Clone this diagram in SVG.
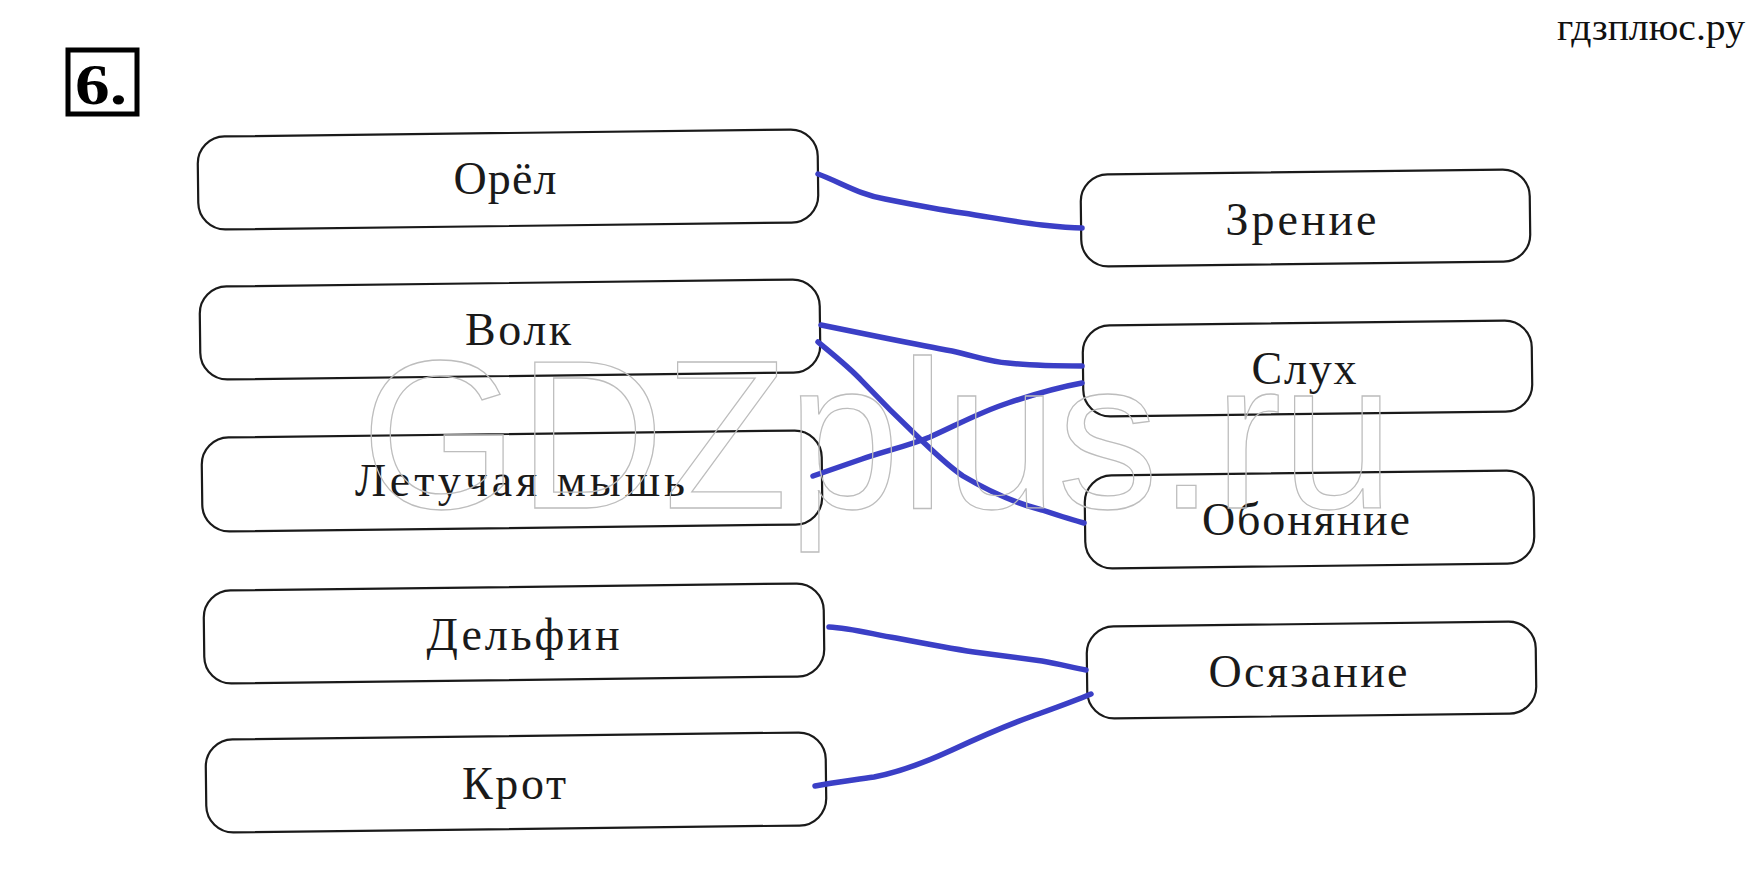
<svg xmlns="http://www.w3.org/2000/svg" width="1756" height="889" viewBox="0 0 1756 889">
<style>
.box{fill:#fff;stroke:#1a1a1a;stroke-width:2.2}
.lbl{font-family:"Liberation Serif","DejaVu Serif",serif;font-size:46px;fill:#1a1a1a;text-anchor:middle}
.link{fill:none;stroke:#3b3fc6;stroke-width:5.5;stroke-linecap:round;stroke-linejoin:round}
.wm{font-family:"Liberation Sans",Arial,sans-serif;font-size:212px;fill:none;stroke:#bdbdbd;stroke-width:1.3}
</style>
<rect width="1756" height="889" fill="#fff"/>
<g id="title">
<rect x="68" y="50" width="69" height="64" fill="#fff" stroke="#000" stroke-width="5"/>
<text x="101" y="104" font-family="Liberation Serif,serif" font-size="58" font-weight="bold" text-anchor="middle" fill="#000" textLength="52" lengthAdjust="spacingAndGlyphs">6.</text>
</g>
<text x="1745" y="40" font-family="Liberation Serif,serif" font-size="38" text-anchor="end" fill="#111" textLength="188" lengthAdjust="spacingAndGlyphs">гдзплюс.ру</text>
<g id="left-nodes">
<g id="n-orel"><rect class="box" x="198" y="133" width="620" height="93" rx="27" transform="rotate(-0.7 508 179)"/><text class="lbl" x="505" y="194" textLength="103">Орёл</text></g>
<g id="n-volk"><rect class="box" x="200" y="283" width="620" height="93" rx="27" transform="rotate(-0.7 510 329)"/><text class="lbl" x="518" y="345" textLength="106">Волк</text></g>
<g id="n-mysh"><rect class="box" x="202" y="434" width="620" height="94" rx="27" transform="rotate(-0.7 512 481)"/><text class="lbl" x="520" y="496" textLength="330">Летучая мышь</text></g>
<g id="n-delfin"><rect class="box" x="204" y="587" width="620" height="93" rx="27" transform="rotate(-0.7 514 633)"/><text class="lbl" x="523" y="650" textLength="193">Дельфин</text></g>
<g id="n-krot"><rect class="box" x="206" y="736" width="620" height="93" rx="27" transform="rotate(-0.7 516 782)"/><text class="lbl" x="514" y="799" textLength="104">Крот</text></g>
</g>
<g id="right-nodes">
<g id="n-zrenie"><rect class="box" x="1081" y="172" width="449" height="92" rx="27" transform="rotate(-0.7 1305 218)"/><text class="lbl" x="1301" y="235" textLength="151">Зрение</text></g>
<g id="n-sluh"><rect class="box" x="1083" y="323" width="449" height="91" rx="27" transform="rotate(-0.7 1307 368)"/><text class="lbl" x="1304" y="384" textLength="105">Слух</text></g>
<g id="n-obon"><rect class="box" x="1085" y="473" width="449" height="93" rx="27" transform="rotate(-0.7 1309 519)"/><text class="lbl" x="1306" y="535" textLength="208">Обоняние</text></g>
<g id="n-osyaz"><rect class="box" x="1087" y="624" width="449" height="92" rx="27" transform="rotate(-0.7 1311 670)"/><text class="lbl" x="1308" y="687" textLength="199">Осязание</text></g>
</g>
<g id="connectors">
<path class="link" d="M818,174 C840,182 860,195 885,199 C910,204 935,209 963,213 C990,217 1015,222 1042,225 C1060,227 1072,228 1082,228"/>
<path class="link" d="M821,325 C845,330 865,334 885,338 C910,343 930,347 952,351 C975,356 990,362 1008,363 C1035,366 1060,366 1082,366"/>
<path class="link" d="M818,342 C835,356 850,368 862,381 C880,400 900,420 918,437 C935,453 948,466 963,476 C990,492 1015,503 1042,510 C1060,516 1072,520 1084,523"/>
<path class="link" d="M813,476 C830,470 845,465 862,459 C885,451 908,446 930,437 C955,426 980,412 1008,403 C1035,394 1060,387 1082,383"/>
<path class="link" d="M829,627 C850,628 872,634 896,638 C922,643 948,648 974,652 C998,655 1020,658 1042,661 C1060,664 1074,668 1086,670"/>
<path class="link" d="M815,786 C835,782 855,780 874,777 C900,772 926,762 952,750 C980,737 1005,726 1030,717 C1052,709 1072,702 1091,694"/>
</g>
<text class="wm" x="361" y="508" textLength="1033" lengthAdjust="spacingAndGlyphs">GDZplus.ru</text>
</svg>
